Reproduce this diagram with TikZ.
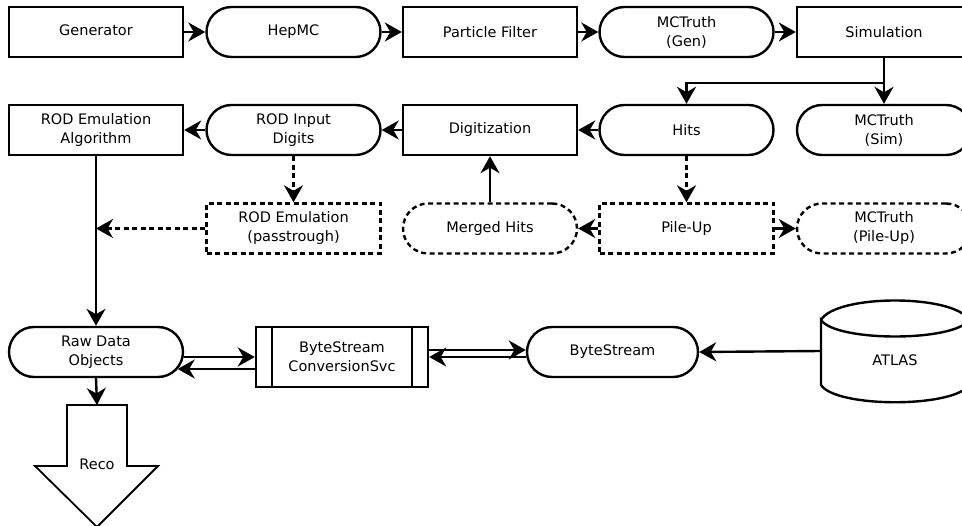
\documentclass[tikz,border=0pt]{standalone}
\usepackage{fontspec}
\setmainfont{DejaVu Sans}
\usetikzlibrary{arrows.meta,calc}
\begin{document}
\begin{tikzpicture}[x=1pt,y=-1pt,
  every node/.style={font=\fontsize{14.5}{19}\selectfont, align=center, inner sep=0pt},
  proc/.style={draw, line width=2.4pt, minimum width=174pt, minimum height=50pt},
  pill/.style={proc, rounded corners=25pt},
  dproc/.style={proc, dash pattern=on 5pt off 3.5pt},
  dpill/.style={pill, dash pattern=on 5pt off 3.5pt},
  arr/.style={line width=2.4pt, -{Stealth[length=17pt,width=19pt,inset=5.5pt]}},
  darr/.style={arr, dash pattern=on 5pt off 3.5pt},
  ln/.style={line width=2.4pt}
]
\useasboundingbox (0,0) rectangle (962,526);
% row 1
\node[proc] (gen) at (96,32) {\raisebox{4pt}{Generator}};
\node[pill] (hepmc) at (293.5,32) {HepMC};
\node[proc] (pf) at (490,32) {Particle Filter};
\node[pill] (mcgen) at (686.5,32) {MCTruth\\(Gen)};
\node[proc] (sim) at (884,32) {Simulation};
% row 2
\node[proc] (rodalg) at (96,130) {ROD Emulation\\Algorithm};
\node[pill] (rodin) at (293.5,130) {ROD Input\\Digits};
\node[proc] (digi) at (490,130) {Digitization};
\node[pill] (hits) at (686.5,130) {Hits};
\node[pill] (mcsim) at (884,130) {MCTruth\\(Sim)};
% row 3
\node[dproc] (pass) at (293.5,228.5) {ROD Emulation\\(passtrough)};
\node[dpill] (merged) at (490,228.5) {Merged Hits};
\node[dproc] (pile) at (686.5,228.5) {Pile-Up};
\node[dpill] (mcpile) at (884,228.5) {MCTruth\\(Pile-Up)};
% row 4
\node[pill] (raw) at (96,352) {Raw Data\\Objects};
\node[proc, minimum height=60pt, minimum width=172pt] (bscs) at (342,357) {ByteStream\\ConversionSvc};
\draw[ln] ($(bscs.north west)+(17,0)$) -- ($(bscs.south west)+(17,0)$);
\draw[ln] ($(bscs.north east)+(-17,0)$) -- ($(bscs.south east)+(-17,0)$);
\node[pill, minimum width=171pt] (bs) at (612.5,352) {ByteStream};
% ATLAS storage
\draw[ln] (821,320) .. controls (836,294) and (954,294) .. (969,320)
  .. controls (954,342) and (836,342) .. (821,320) -- (821,385)
  .. controls (836,408) and (954,408) .. (969,385) -- (969,320);
\node (atlas) at (895,360) {ATLAS};
\coordinate (atlasw) at (821,351);
% Reco arrow
\draw[line width=1.8pt, line join=miter] (67,405) -- (127,405) -- (127,466) -- (158,466) -- (97,527) -- (35,466) -- (67,466) -- cycle;
\node (reco) at (97,464) {Reco};
\coordinate (recotop) at (97,405);
% connectors row 1
\draw[arr] (gen.east) -- (hepmc.west);
\draw[arr] (hepmc.east) -- (pf.west);
\draw[arr] (pf.east) -- (mcgen.west);
\draw[arr] (mcgen.east) -- (sim.west);
\coordinate (branch) at ($(sim.south)+(0,25)$);
\draw[arr] (sim.south) -- (mcsim.north);
\draw[arr] (branch) -| (hits.north);
% row 2
\draw[arr] (hits.west) -- (digi.east);
\draw[arr] (digi.west) -- (rodin.east);
\draw[arr] (rodin.west) -- (rodalg.east);
\draw[darr] (hits.south) -- (pile.north);
\draw[darr] (rodin.south) -- (pass.north);
% row 3
\draw[arr] (pile.west) -- (merged.east);
\draw[arr] (pile.east) -- (mcpile.west);
\draw[arr] (merged.north) -- (digi.south);
\coordinate (join) at (rodalg.south |- pass.west);
\draw[darr] (pass.west) -- (join);
\draw[arr] (rodalg.south) -- (raw.north);
% row 4
\draw[arr] (raw.south) -- (recotop);
\draw[arr] ($(raw.east)+(0,5)$) -- (bscs.west);
\draw[arr] ($(bscs.west)+(0,12)$) -- ($(raw.east)+(-6.5,17)$);
\draw[arr] ($(bscs.east)+(0,-7)$) -- ($(bs.west)+(0,-2)$);
\draw[arr] ($(bs.west)+(0.5,5)$) -- (bscs.east);
\draw[arr] (atlasw) -- (bs.east);
\end{tikzpicture}
\end{document}
